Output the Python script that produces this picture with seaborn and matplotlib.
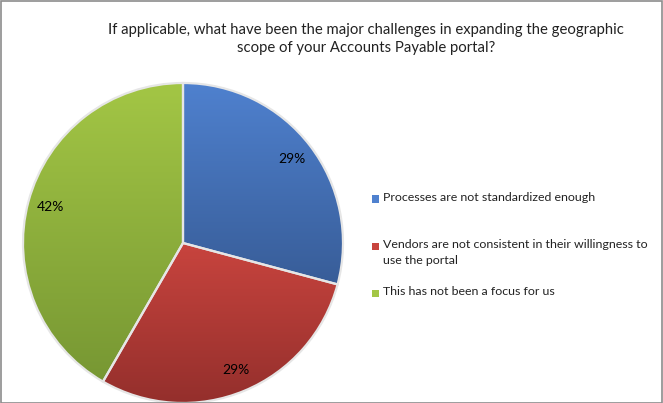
import numpy as np
import matplotlib
matplotlib.use("Agg")
import matplotlib.pyplot as plt
import seaborn as sns
from matplotlib.colors import LinearSegmentedColormap
from matplotlib.patches import Rectangle

# survey answers (counts), order = clockwise from 12 o'clock
answers = ["Processes are not standardized enough",
           "Vendors are not consistent in their willingness to\nuse the portal",
           "This has not been a focus for us"]
counts = [7, 7, 10]
# excel style gradient, top colour -> bottom colour
top_colors = ["#4f81cf", "#c8443e", "#a3c645"]
bottom_colors = ["#385d98", "#942f2c", "#779733"]

title = ("If applicable, what have been the major challenges in expanding the geographic\n"
         "scope of your Accounts Payable portal?")

sns.set_theme(style="white")
plt.rcParams["font.family"] = ["Lato", "DejaVu Sans"]

W, H = 663, 403
fig = plt.figure(figsize=(W / 100, H / 100), dpi=100)
fig.patch.set_facecolor("white")

cx, cy, r = 183, 243, 160
ax = fig.add_axes([(cx - r) / W, (H - cy - r) / H, 2 * r / W, 2 * r / H])

palette = sns.color_palette(top_colors)
wedges, texts, autotexts = ax.pie(counts, colors=palette, startangle=90, counterclock=False,
                                  autopct="%1.0f%%", pctdistance=0.86,
                                  wedgeprops=dict(edgecolor="#e6e6e6", linewidth=1.6),
                                  textprops=dict(fontsize=10, color="black"))
ax.set_xlim(-1, 1)
ax.set_ylim(-1, 1)
ax.set_aspect("equal")
ax.axis("off")

# gradient fill clipped to each wedge
grad = np.linspace(1, 0, 256).reshape(-1, 1)
for w, c0, c1 in zip(wedges, top_colors, bottom_colors):
    th = np.radians(np.linspace(w.theta1, w.theta2, 100))
    ys = np.concatenate([[0], np.sin(th)])
    xs = np.concatenate([[0], np.cos(th)])
    cmap = LinearSegmentedColormap.from_list("g", [c1, c0])
    im = ax.imshow(grad, extent=[xs.min(), xs.max(), ys.min(), ys.max()], cmap=cmap,
                   aspect="auto", origin="upper", zorder=1, interpolation="bilinear")
    im.set_clip_path(w)
    w.set_facecolor("none")
    w.set_zorder(2)
for t in autotexts:
    t.set_zorder(3)
ax.set_xlim(-1, 1)
ax.set_ylim(-1, 1)

fig.text(366 / W, 1 - 39 / H, title, ha="center", va="center", fontsize=10.7,
         linespacing=1.45, color="#222222")

# legend drawn by hand to match excel spacing
leg_y = [199, 246, 293]
for lab, col, y in zip(answers, top_colors, leg_y):
    fig.patches.append(Rectangle((372 / W, 1 - (y + 3.5) / H), 7 / W, 7 / H,
                                 transform=fig.transFigure, facecolor=col, edgecolor="none"))
    fig.text(383 / W, 1 - (y - 7) / H, lab, ha="left", va="top", fontsize=8.9,
             linespacing=1.5, color="#222222")

# chart border
fig.patches.append(Rectangle((0.5 / W, 0.5 / H), 1 - 1.5 / W, 1 - 1.5 / H,
                             transform=fig.transFigure, facecolor="none",
                             edgecolor="#8c8c8c", linewidth=1.2))

fig.savefig("out.png", dpi=100)
